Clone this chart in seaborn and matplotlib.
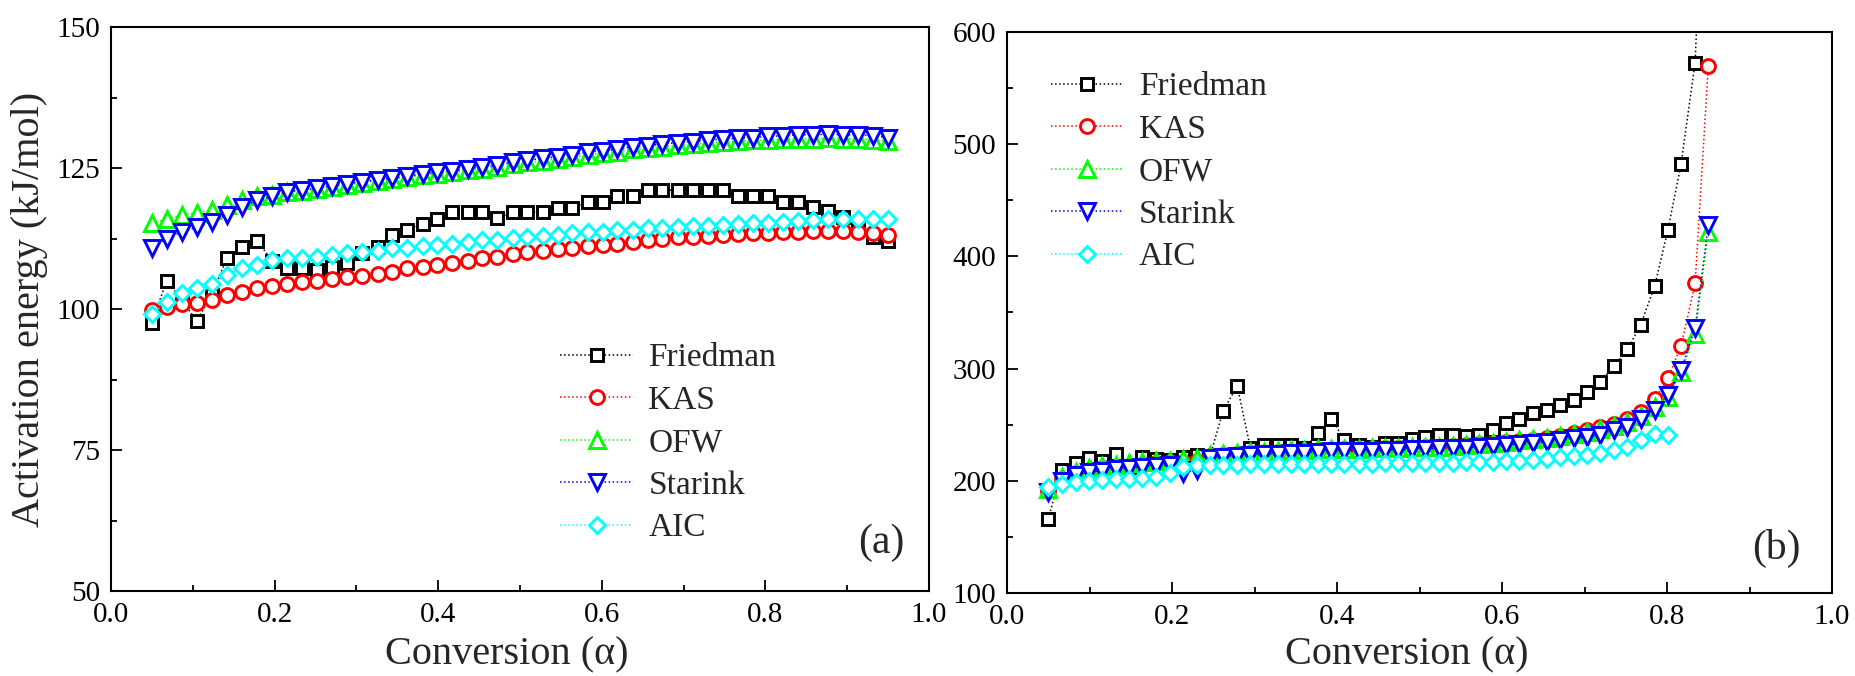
import matplotlib
matplotlib.use("Agg")
import matplotlib.pyplot as plt
import seaborn as sns
import pandas as pd
from matplotlib.ticker import MultipleLocator

# ---------------- data ----------------
methods = ["Friedman", "KAS", "OFW", "Starink", "AIC"]

conv_a = [0.050, 0.068, 0.087, 0.105, 0.123, 0.142, 0.160, 0.179, 0.197, 0.215,
          0.234, 0.252, 0.270, 0.289, 0.307, 0.326, 0.344, 0.362, 0.381, 0.399,
          0.417, 0.436, 0.454, 0.472, 0.491, 0.509, 0.528, 0.546, 0.564, 0.583,
          0.601, 0.619, 0.638, 0.656, 0.674, 0.693, 0.711, 0.730, 0.748, 0.766,
          0.785, 0.803, 0.821, 0.840, 0.858, 0.877, 0.895, 0.913, 0.932, 0.950]

friedman_a = [97.6, 105.0, 101.5, 97.9, 102.5, 109.1, 111.0, 112.1, 108.5, 107.2,
              107.2, 107.0, 107.5, 108.1, 109.9, 111.0, 113.1, 114.0, 115.1, 116.0,
              117.2, 117.2, 117.2, 116.1, 117.2, 117.2, 117.2, 118.0, 118.0, 119.0,
              119.0, 120.1, 120.1, 121.1, 121.1, 121.1, 121.1, 121.1, 121.1, 120.1,
              120.1, 120.1, 119.0, 119.0, 118.1, 117.3, 116.4, 115.0, 112.8, 112.1]
kas_a = [99.9, 100.4, 100.9, 101.1, 101.6, 102.4, 103.1, 103.8, 104.1, 104.5,
         104.8, 105.0, 105.3, 105.6, 105.9, 106.3, 106.6, 107.2, 107.5, 107.8,
         108.2, 108.6, 109.0, 109.3, 109.7, 110.2, 110.3, 110.6, 110.9, 111.2,
         111.3, 111.6, 111.9, 112.2, 112.5, 112.7, 112.8, 112.9, 113.1, 113.3,
         113.4, 113.5, 113.6, 113.7, 113.8, 113.9, 113.9, 113.7, 113.4, 113.2]
ofw_a = [115.2, 116.0, 116.7, 117.1, 117.6, 118.4, 119.3, 120.0, 120.2, 120.7,
         121.0, 121.3, 121.7, 122.0, 122.4, 122.7, 123.0, 123.4, 123.7, 124.0,
         124.3, 124.6, 124.9, 125.2, 125.7, 126.0, 126.3, 126.6, 126.9, 127.4,
         127.7, 127.9, 128.3, 128.5, 128.8, 129.0, 129.2, 129.5, 129.6, 129.8,
         129.9, 130.0, 130.1, 130.2, 130.2, 130.3, 130.2, 130.2, 130.0, 129.8]
starink_a = [110.8, 112.5, 113.7, 114.5, 115.5, 116.7, 118.1, 119.3, 120.0, 120.8,
             121.1, 121.4, 121.9, 122.2, 122.6, 122.9, 123.2, 123.6, 123.9, 124.3,
             124.5, 124.9, 125.2, 125.5, 126.1, 126.4, 126.7, 127.0, 127.3, 127.9,
             128.1, 128.3, 128.8, 128.9, 129.3, 129.5, 129.7, 130.0, 130.1, 130.3,
             130.4, 130.6, 130.7, 130.9, 130.9, 131.0, 130.9, 130.9, 130.7, 130.4]
aic_a = [99.1, 101.3, 102.8, 103.8, 104.5, 106.0, 107.2, 107.8, 108.7, 109.0,
         109.0, 109.3, 109.6, 109.9, 110.2, 110.3, 110.8, 110.9, 111.2, 111.3,
         111.6, 111.9, 112.2, 112.3, 112.6, 112.8, 113.0, 113.2, 113.4, 113.6,
         113.7, 114.0, 114.1, 114.3, 114.4, 114.6, 114.7, 114.8, 114.9, 115.0,
         115.2, 115.3, 115.5, 115.6, 115.8, 115.9, 115.9, 116.0, 116.0, 116.0]

conv_b = [0.050, 0.066, 0.083, 0.099, 0.115, 0.132, 0.148, 0.164, 0.181, 0.197,
          0.213, 0.230, 0.246, 0.262, 0.279, 0.295, 0.311, 0.328, 0.344, 0.360,
          0.377, 0.393, 0.409, 0.426, 0.442, 0.458, 0.474, 0.491, 0.507, 0.523,
          0.540, 0.556, 0.572, 0.589, 0.605, 0.621, 0.638, 0.654, 0.670, 0.687,
          0.703, 0.719, 0.736, 0.752, 0.768, 0.785, 0.801, 0.817, 0.834, 0.850]

friedman_b = [166.0, 209.6, 215.6, 220.5, 217.5, 224.2, 212.0, 221.5, 219.2, 218.3,
              221.5, 223.0, 222.0, 262.5, 284.5, 229.0, 231.6, 231.6, 231.6, 229.0,
              242.3, 255.5, 236.4, 232.0, 230.5, 233.5, 233.5, 237.5, 239.3, 240.8,
              240.8, 240.0, 240.8, 245.3, 251.2, 254.8, 260.1, 263.1, 267.6, 272.0,
              279.4, 288.3, 302.3, 317.2, 338.9, 373.6, 423.5, 482.4, 572.6, 850.0]
kas_b = [191.0, 202.0, 207.0, 209.5, 211.0, 212.5, 213.5, 214.5, 215.5, 216.5,
         217.0, 218.0, 222.0, 223.0, 224.0, 224.5, 225.0, 225.5, 226.0, 226.5,
         227.0, 227.5, 228.0, 228.0, 228.5, 229.0, 229.0, 229.5, 230.0, 230.5,
         231.0, 231.5, 232.5, 233.5, 234.5, 235.5, 236.5, 238.0, 240.0, 242.9,
         245.3, 247.7, 250.6, 254.8, 261.6, 272.6, 291.3, 320.1, 376.0, 569.7]
ofw_b = [193.0, 203.0, 208.0, 211.0, 213.0, 214.5, 215.5, 216.5, 217.5, 218.0,
         219.0, 220.0, 223.0, 224.0, 225.0, 225.5, 226.0, 226.5, 227.0, 227.5,
         228.0, 228.0, 228.5, 228.5, 229.0, 229.5, 229.5, 230.0, 230.0, 230.5,
         231.0, 232.0, 233.0, 234.0, 235.0, 236.0, 237.0, 238.5, 240.0, 241.5,
         243.5, 246.0, 249.0, 252.5, 258.0, 266.0, 275.0, 297.0, 331.0, 422.0]
starink_b = [190.0, 200.0, 205.0, 207.5, 209.0, 210.5, 211.5, 212.5, 213.5, 214.5,
             207.0, 210.0, 220.5, 221.5, 222.5, 223.0, 223.5, 224.0, 224.5, 225.0,
             226.0, 226.9, 226.9, 226.9, 226.9, 227.5, 227.5, 228.1, 228.3, 228.9,
             228.9, 229.5, 230.4, 231.0, 231.9, 232.8, 233.4, 234.9, 236.4, 237.9,
             238.8, 240.8, 245.3, 248.2, 255.0, 263.5, 276.5, 298.8, 335.9, 428.0]
aic_b = [194.2, 197.5, 199.2, 200.1, 200.7, 201.3, 201.8, 202.4, 203.5, 207.0,
         212.3, 213.8, 214.5, 214.5, 214.5, 214.7, 214.8, 215.0, 215.0, 215.0,
         215.3, 215.3, 215.3, 215.3, 215.3, 215.5, 215.5, 215.5, 215.5, 215.7,
         216.0, 216.3, 216.5, 217.0, 217.5, 218.0, 218.8, 219.8, 221.0, 222.0,
         223.2, 224.5, 227.2, 230.5, 236.0, 241.5, 241.0]

x_ticks = [0.0, 0.2, 0.4, 0.6, 0.8, 1.0]
y_ticks_a = [50, 75, 100, 125, 150]
y_ticks_b = [100, 200, 300, 400, 500, 600]

# ---------------- style ----------------
sns.set_style("ticks")
plt.rcParams["font.family"] = ["Liberation Serif", "DejaVu Serif"]
plt.rcParams["axes.linewidth"] = 1.5

styles = {
    "Friedman": dict(color="#000000", marker="s", ms=8.5),
    "KAS": dict(color="#ff0000", marker="o", ms=10.0),
    "OFW": dict(color="#00ff00", marker="^", ms=11.5),
    "Starink": dict(color="#0000ff", marker="v", ms=11.5),
    "AIC": dict(color="#00ffff", marker="D", ms=8.5),
}

fig = plt.figure(figsize=(18.56, 6.76), dpi=100)
ax_a = fig.add_axes([0.0598, 0.1257, 0.4407, 0.8343])
ax_b = fig.add_axes([0.5426, 0.1228, 0.4445, 0.8299])

series_a = {"Friedman": friedman_a, "KAS": kas_a, "OFW": ofw_a,
            "Starink": starink_a, "AIC": aic_a}
series_b = {"Friedman": friedman_b, "KAS": kas_b, "OFW": ofw_b,
            "Starink": starink_b, "AIC": aic_b}


def draw(ax, xs, series):
    for m in methods:
        ys = series[m]
        df = pd.DataFrame({"x": xs[:len(ys)], "y": ys})
        st = styles[m]
        sns.lineplot(data=df, x="x", y="y", ax=ax, color=st["color"],
                     linestyle=":", linewidth=1.1, marker=st["marker"],
                     markersize=st["ms"], markerfacecolor="white",
                     markeredgecolor=st["color"], markeredgewidth=2.1,
                     label=m, estimator=None, sort=False)


draw(ax_a, conv_a, series_a)
draw(ax_b, conv_b, series_b)

for ax, yt, ylim in [(ax_a, y_ticks_a, (50, 150)), (ax_b, y_ticks_b, (100, 600))]:
    ax.set_xlim(0.0, 1.0)
    ax.set_ylim(*ylim)
    ax.set_xticks(x_ticks)
    ax.set_xticklabels([f"{t:.1f}" for t in x_ticks])
    ax.set_yticks(yt)
    ax.xaxis.set_minor_locator(MultipleLocator(0.1))
    ax.yaxis.set_minor_locator(MultipleLocator((yt[1] - yt[0]) / 2))
    ax.tick_params(which="both", direction="in", top=False, right=False,
                   labelsize=21, width=1.3, colors="black")
    ax.tick_params(which="major", length=8, pad=8)
    ax.tick_params(which="minor", length=4.5)
    for sp in ax.spines.values():
        sp.set_visible(True)
        sp.set_linewidth(1.5)
        sp.set_color("black")
    ax.set_xlabel("Conversion (\u03b1)", fontsize=29)
    ax.set_ylabel("")

ax_a.xaxis.set_label_coords(0.484, -0.080)
ax_b.xaxis.set_label_coords(0.484, -0.078)
ax_a.set_ylabel("Activation energy (kJ/mol)", fontsize=29, labelpad=6)

leg_kw = dict(frameon=False, fontsize=24, handlelength=2.2, handletextpad=0.45,
              labelspacing=0.36, borderpad=0.0, borderaxespad=0.0,
              numpoints=1, loc="upper left")
ax_a.legend(bbox_to_anchor=(0.549, 0.440), **leg_kw)
ax_b.legend(bbox_to_anchor=(0.053, 0.929), **leg_kw)

ax_a.text(0.97, 0.085, "(a)", transform=ax_a.transAxes, fontsize=30,
          ha="right", va="center")
ax_b.text(0.962, 0.08, "(b)", transform=ax_b.transAxes, fontsize=30,
          ha="right", va="center")

fig.savefig("out.png", dpi=100)
